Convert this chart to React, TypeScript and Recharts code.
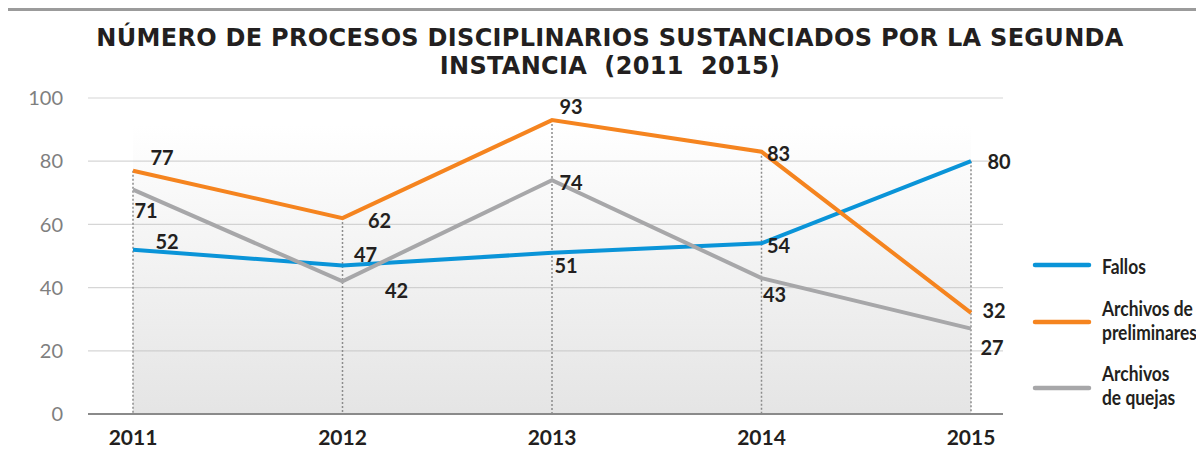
import React from 'react';
import {
  LineChart, Line, XAxis, YAxis, CartesianGrid, ReferenceArea, ReferenceLine, LabelList, Legend,
} from 'recharts';

const categories = ['2011', '2012', '2013', '2014', '2015'];
const fallos = [52, 47, 51, 54, 80];
const preliminares = [77, 62, 93, 83, 32];
const quejas = [71, 42, 74, 43, 27];
const yTicks = [0, 20, 40, 60, 80, 100];
const titleLines = [
  'NÚMERO DE PROCESOS DISCIPLINARIOS SUSTANCIADOS POR LA SEGUNDA',
  'INSTANCIA  (2011  2015)',
];
const seriesNames = ['Fallos', 'Archivos de preliminares', 'Archivos de quejas'];
const legendLines = [['Fallos'], ['Archivos de', 'preliminares'], ['Archivos', 'de quejas']];

// label offsets (style config, px relative to the point)
const fallosLabelOffsets = [[34, -8], [23, -11], [14, 13], [17, 2], [28, 1]];
const prelimLabelOffsets = [[29, -13], [37, 3], [19, -13], [17, 2], [23, -2]];
const quejasLabelOffsets = [[13, 21], [54, 10], [19, 3], [13, 17], [21, 19]];

const COLORS = ['#0a94d8', '#f5841f', '#a7a7a9'];
const FONT = 'Lato, "Open Sans", sans-serif';

const data = categories.map((year, i) => ({
  year,
  fallos: fallos[i],
  preliminares: preliminares[i],
  quejas: quejas[i],
}));
const dropTops = categories.map((_, i) => Math.max(fallos[i], preliminares[i], quejas[i]));

const makeLabel = (offsets: number[][]) => (props: any) => {
  const { x, y, value, index } = props;
  const [dx, dy] = offsets[index] || [0, 0];
  return (
    <text
      x={x + dx}
      y={y + dy}
      dy="0.36em"
      textAnchor="middle"
      fontFamily={FONT}
      fontWeight={700}
      fontSize={20}
      fill="#231f20"
    >
      {value}
    </text>
  );
};

const LegendContent = () => {
  const lineYs = [15, 72, 138];
  const textYs = [[24], [66, 90], [131, 155]];
  return (
    <svg width={175} height={170} style={{ overflow: 'visible' }}>
      {seriesNames.map((name, i) => (
        <g key={name}>
          <line x1={5} x2={59} y1={lineYs[i]} y2={lineYs[i]} stroke={COLORS[i]} strokeWidth={4.5} strokeLinecap="round" />
          <g transform="translate(72,0) scale(0.87,1)">
            {legendLines[i].map((t, j) => (
              <text key={t} x={0} y={textYs[i][j]} fontFamily={FONT} fontWeight={700} fontSize={20} fill="#231f20">
                {t}
              </text>
            ))}
          </g>
        </g>
      ))}
    </svg>
  );
};

export default function App() {
  return (
    <div
      style={{
        position: 'relative',
        width: 1196,
        height: 463,
        marginLeft: -3,
        borderTop: '3px solid #9b9b9b',
        borderLeft: '3px solid #9b9b9b',
        background: '#fff',
      }}
    >
      <LineChart
        width={1196}
        height={463}
        data={data}
        margin={{ top: 87, right: 201, bottom: 30, left: 0 }}
      >
        <defs>
          <linearGradient id="bgGrad" x1="0" y1="0" x2="0" y2="1">
            <stop offset="0%" stopColor="#bdbdbd" stopOpacity={0} />
            <stop offset="100%" stopColor="#bdbdbd" stopOpacity={0.4} />
          </linearGradient>
        </defs>
        <ReferenceArea x1="2011" x2="2015" y1={0} y2={91.5} fill="url(#bgGrad)" fillOpacity={1} stroke="none" ifOverflow="visible" />
        <CartesianGrid vertical={false} stroke="#d6d6d6" strokeWidth={1.2} />
        {categories.map((c, i) => (
          <ReferenceLine
            key={c}
            segment={[{ x: c, y: dropTops[i] }, { x: c, y: 0 }]}
            stroke="#8c8c8c"
            strokeWidth={1.5}
            strokeDasharray="2 2"
          />
        ))}
        <XAxis
          dataKey="year"
          padding={{ left: 45, right: 32 }}
          height={30}
          tickLine={false}
          tickSize={0}
          tickMargin={16}
          axisLine={{ stroke: '#8a8a8a', strokeWidth: 2 }}
          tick={{ fontFamily: FONT, fontWeight: 700, fontSize: 21, fill: '#231f20' }}
          interval={0}
        />
        <YAxis
          domain={[0, 100]}
          ticks={yTicks}
          width={80}
          axisLine={false}
          tickLine={false}
          tickSize={0}
          tickMargin={25}
          tick={{ fontFamily: FONT, fontSize: 20, fill: '#7f7f7f' }}
        />
        <Legend
          layout="vertical"
          align="center"
          verticalAlign="middle"
          wrapperStyle={{ left: 1022, top: 239, width: 175 }}
          content={() => <LegendContent />}
        />
        <Line
          type="linear"
          dataKey="fallos"
          name={seriesNames[0]}
          stroke={COLORS[0]}
          strokeWidth={4}
          dot={false}
          isAnimationActive={false}
        >
          <LabelList dataKey="fallos" content={makeLabel(fallosLabelOffsets)} />
        </Line>
        <Line
          type="linear"
          dataKey="preliminares"
          name={seriesNames[1]}
          stroke={COLORS[1]}
          strokeWidth={4}
          dot={false}
          isAnimationActive={false}
        >
          <LabelList dataKey="preliminares" content={makeLabel(prelimLabelOffsets)} />
        </Line>
        <Line
          type="linear"
          dataKey="quejas"
          name={seriesNames[2]}
          stroke={COLORS[2]}
          strokeWidth={4}
          dot={false}
          isAnimationActive={false}
        >
          <LabelList dataKey="quejas" content={makeLabel(quejasLabelOffsets)} />
        </Line>
      </LineChart>
      <svg
        width={1196}
        height={80}
        style={{ position: 'absolute', left: 0, top: 0, pointerEvents: 'none' }}
      >
        {titleLines.map((t, i) => (
          <text
            key={t}
            x={602}
            y={35 + i * 28}
            textAnchor="middle"
            fontFamily='"DejaVu Sans", Verdana, sans-serif'
            fontWeight={700}
            fontSize={24}
            letterSpacing={0.3}
            fill="#231f20"
            style={{ whiteSpace: 'pre' }}
          >
            {t}
          </text>
        ))}
      </svg>
    </div>
  );
}
